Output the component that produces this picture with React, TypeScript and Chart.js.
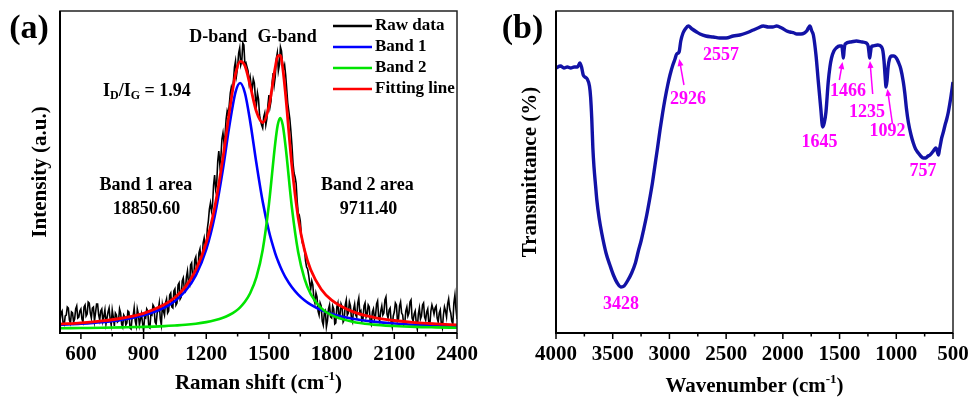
import React, { useEffect, useRef } from "react";
import { Chart, registerables } from "chart.js";

Chart.register(...registerables);

const FONT = "'Liberation Serif', 'Times New Roman', Times, serif";

// ---------------- Panel (a): Raman ----------------
const ramanShift = [
  500, 505, 510, 515, 520, 525, 530, 535, 540, 545, 550, 555, 560, 565, 570, 575, 580, 585, 590, 595,
  600, 605, 610, 615, 620, 625, 630, 635, 640, 645, 650, 655, 660, 665, 670, 675, 680, 685, 690, 695,
  700, 705, 710, 715, 720, 725, 730, 735, 740, 745, 750, 755, 760, 765, 770, 775, 780, 785, 790, 795,
  800, 805, 810, 815, 820, 825, 830, 835, 840, 845, 850, 855, 860, 865, 870, 875, 880, 885, 890, 895,
  900, 905, 910, 915, 920, 925, 930, 935, 940, 945, 950, 955, 960, 965, 970, 975, 980, 985, 990, 995,
  1000, 1005, 1010, 1015, 1020, 1025, 1030, 1035, 1040, 1045, 1050, 1055, 1060, 1065, 1070, 1075, 1080, 1085, 1090, 1095,
  1100, 1105, 1110, 1115, 1120, 1125, 1130, 1135, 1140, 1145, 1150, 1155, 1160, 1165, 1170, 1175, 1180, 1185, 1190, 1195,
  1200, 1205, 1210, 1215, 1220, 1225, 1230, 1235, 1240, 1245, 1250, 1255, 1260, 1265, 1270, 1275, 1280, 1285, 1290, 1295,
  1300, 1305, 1310, 1315, 1320, 1325, 1330, 1335, 1340, 1345, 1350, 1355, 1360, 1365, 1370, 1375, 1380, 1385, 1390, 1395,
  1400, 1405, 1410, 1415, 1420, 1425, 1430, 1435, 1440, 1445, 1450, 1455, 1460, 1465, 1470, 1475, 1480, 1485, 1490, 1495,
  1500, 1505, 1510, 1515, 1520, 1525, 1530, 1535, 1540, 1545, 1550, 1555, 1560, 1565, 1570, 1575, 1580, 1585, 1590, 1595,
  1600, 1605, 1610, 1615, 1620, 1625, 1630, 1635, 1640, 1645, 1650, 1655, 1660, 1665, 1670, 1675, 1680, 1685, 1690, 1695,
  1700, 1705, 1710, 1715, 1720, 1725, 1730, 1735, 1740, 1745, 1750, 1755, 1760, 1765, 1770, 1775, 1780, 1785, 1790, 1795,
  1800, 1805, 1810, 1815, 1820, 1825, 1830, 1835, 1840, 1845, 1850, 1855, 1860, 1865, 1870, 1875, 1880, 1885, 1890, 1895,
  1900, 1905, 1910, 1915, 1920, 1925, 1930, 1935, 1940, 1945, 1950, 1955, 1960, 1965, 1970, 1975, 1980, 1985, 1990, 1995,
  2000, 2005, 2010, 2015, 2020, 2025, 2030, 2035, 2040, 2045, 2050, 2055, 2060, 2065, 2070, 2075, 2080, 2085, 2090, 2095,
  2100, 2105, 2110, 2115, 2120, 2125, 2130, 2135, 2140, 2145, 2150, 2155, 2160, 2165, 2170, 2175, 2180, 2185, 2190, 2195,
  2200, 2205, 2210, 2215, 2220, 2225, 2230, 2235, 2240, 2245, 2250, 2255, 2260, 2265, 2270, 2275, 2280, 2285, 2290, 2295,
  2300, 2305, 2310, 2315, 2320, 2325, 2330, 2335, 2340, 2345, 2350, 2355, 2360, 2365, 2370, 2375, 2380, 2385, 2390, 2395,
  2400,
];

const rawData = [
  12, 20, 22, 9, 8, 17, 18, 26, 25, 13, 10, 21, 20, 11, 14, 24, 27, 15, 16, 22,
  24, 14, 11, 26, 28, 17, 19, 31, 30, 20, 15, 25, 26, 12, 20, 29, 29, 18, 13, 22,
  24, 12, 17, 23, 9, 15, 21, 25, 14, 8, 23, 16, 7, 20, 18, 11, 12, 24, 20, 9,
  6, 18, 16, 8, 10, 22, 21, 5, 4, 15, 17, 25, 12, 7, 24, 19, 8, 14, 19, 10,
  2, 16, 15, 24, 22, 6, 5, 19, 18, 28, 26, 11, 9, 20, 23, 30, 14, 8, 28, 22,
  18, 30, 34, 20, 22, 38, 40, 26, 25, 42, 44, 28, 30, 48, 50, 34, 36, 52, 55, 44,
  42, 56, 62, 50, 48, 68, 70, 54, 55, 73, 76, 60, 62, 80, 84, 70, 72, 90, 95, 86,
  88, 104, 112, 124, 130, 122, 128, 148, 158, 144, 150, 172, 182, 168, 176, 194, 200, 190, 198, 214,
  222, 218, 228, 240, 246, 242, 252, 266, 272, 258, 266, 280, 285, 268, 272, 290, 288, 268, 270, 266,
  262, 250, 256, 248, 244, 254, 250, 236, 228, 240, 234, 218, 212, 208, 205, 216, 220, 208, 214, 228,
  238, 226, 232, 250, 260, 248, 256, 274, 280, 262, 268, 286, 282, 270, 264, 268, 258, 244, 230, 222,
  214, 202, 188, 170, 160, 156, 150, 132, 120, 118, 112, 98, 90, 88, 84, 72, 66, 64, 58, 50,
  44, 52, 48, 34, 30, 40, 36, 22, 18, 30, 27, 12, 8, 20, 22, 6, 12, 24, 28, 16,
  15, 27, 24, 9, 10, 26, 30, 16, 18, 29, 26, 11, 13, 28, 33, 18, 20, 31, 27, 14,
  11, 24, 29, 18, 16, 30, 35, 20, 22, 12, 14, 27, 30, 16, 19, 28, 26, 10, 8, 21,
  24, 14, 17, 29, 32, 16, 12, 22, 27, 18, 20, 33, 36, 19, 15, 23, 25, 11, 6, 17,
  21, 30, 28, 12, 14, 27, 31, 20, 18, 8, 9, 22, 26, 17, 20, 31, 33, 15, 12, 19,
  22, 10, 4, 19, 25, 14, 17, 28, 30, 16, 13, 21, 24, 10, 8, 22, 28, 24, 19, 25,
  27, 15, 11, 20, 23, 9, 5, 18, 26, 22, 16, 29, 34, 24, 20, 12, 9, 30, 38, 24,
  14,
];

const fitShift = [
  500, 600, 700, 800, 900, 1000, 1050, 1100, 1150, 1200,
  1240, 1280, 1310, 1340, 1362, 1385, 1410, 1440, 1470, 1500,
  1530, 1542, 1554, 1566, 1580, 1610, 1640, 1670, 1700, 1750,
  1800, 1900, 2000, 2100, 2200, 2300, 2400,
];

const band1 = [
  8.1, 9.2, 10.8, 13.4, 17.7, 25.5, 32.1, 42.0, 57.7, 83.6,
  116.5, 164.2, 206.4, 240.9, 250.0, 240.0, 211.8, 169.7, 131.5, 101.7,
  79.7, 72.7, 66.5, 61.0, 55.4, 45.7, 38.4, 32.7, 28.3, 22.9,
  19.1, 14.2, 11.4, 9.5, 8.3, 7.5, 6.8,
];

const band2 = [
  4.8, 5.0, 5.2, 5.6, 6.1, 6.9, 7.5, 8.2, 9.3, 10.9,
  12.7, 15.2, 18.0, 21.8, 25.7, 31.2, 39.7, 55.8, 83.0, 128.9,
  189.7, 208.0, 215.0, 208.0, 185.9, 125.1, 80.7, 54.4, 38.9, 24.9,
  17.8, 11.2, 8.4, 7.0, 6.1, 5.6, 5.2,
];

const fittingLine = [
  8.9, 10.2, 12.1, 15.0, 19.7, 28.4, 35.5, 46.2, 63.0, 90.5,
  125.2, 175.4, 220.4, 258.7, 271.7, 267.2, 247.5, 221.5, 210.5, 226.6,
  265.4, 276.7, 277.5, 265.0, 237.3, 166.8, 115.1, 83.1, 63.2, 43.8,
  32.9, 21.4, 15.7, 12.5, 10.4, 9.1, 8.1,
];

const ramanMajorTicks = [600, 900, 1200, 1500, 1800, 2100, 2400];
const ramanMinorTicks = [750, 1050, 1350, 1650, 1950, 2250];
const ramanLegend = ["Raw data", "Band 1", "Band 2", "Fitting line"];

// ---------------- Panel (b): FTIR ----------------
const wavenumber = [
  4000, 3960, 3930, 3900, 3870, 3840, 3810, 3790, 3775, 3760,
  3745, 3725, 3705, 3695, 3685, 3675, 3665, 3650, 3640, 3620,
  3597, 3559, 3525, 3494, 3460, 3428, 3400, 3370, 3333, 3300,
  3274, 3250, 3230, 3200, 3171, 3150, 3127, 3105, 3083, 3060,
  3039, 3015, 2995, 2970, 2951, 2936, 2915, 2900, 2880, 2860,
  2834, 2800, 2760, 2730, 2680, 2613, 2557, 2500, 2437, 2380,
  2349, 2300, 2261, 2220, 2172, 2128, 2090, 2054, 2010, 1966,
  1937, 1900, 1878, 1840, 1810, 1790, 1775, 1762, 1745, 1731,
  1708, 1687, 1666, 1649, 1635, 1620, 1600, 1585, 1571, 1550,
  1530, 1500, 1480, 1472, 1466, 1460, 1450, 1400, 1352, 1300,
  1264, 1248, 1240, 1235, 1228, 1220, 1206, 1162, 1130, 1118,
  1108, 1098, 1090, 1082, 1072, 1060, 1040, 1020, 1000, 982,
  960, 938, 925, 910, 894, 870, 850, 830, 806, 785,
  762, 740, 720, 703, 680, 660, 650, 642, 635, 628,
  620, 610, 600, 585, 570, 555, 541, 520, 500,
];

const transmittance = [
  265, 267, 265, 266, 265, 266, 266, 270, 266, 258,
  256, 254, 247, 236, 215, 185, 166, 146, 133, 115,
  100, 80, 68, 58, 50, 46, 47, 52, 60, 70,
  82, 92, 102, 118, 136, 150, 168, 185, 203, 220,
  234, 248, 258, 268, 274, 279, 281, 292, 300, 304,
  307, 304, 301, 299, 297, 296, 295, 295, 297, 298,
  299, 301, 303, 305, 307, 306, 306, 307, 305, 302,
  301, 300, 299, 299, 300, 302, 305, 307, 302, 298,
  278, 251, 225, 206, 210, 221, 251, 266, 275, 282,
  285, 287, 287, 280, 275, 283, 289, 291, 292, 291,
  290, 287, 280, 275, 280, 286, 287, 288, 286, 282,
  272, 256, 246, 252, 266, 274, 277, 277, 275, 271,
  264, 251, 240, 224, 211, 198, 190, 184, 180, 177,
  175, 175, 177, 178, 181, 184, 185, 183, 180, 178,
  183, 189, 195, 201, 208, 214, 221, 235, 251,
];

const ftirMajorTicks = [4000, 3500, 3000, 2500, 2000, 1500, 1000, 500];
const ftirMinorTicks = [3750, 3250, 2750, 2250, 1750, 1250, 750];
const ftirPeakLabels = ["3428", "2926", "2557", "1645", "1466", "1235", "1092", "757"];

// ---------------- helpers ----------------
type Part = { t: string; size: number; dy?: number };

function drawRich(
  ctx: CanvasRenderingContext2D,
  parts: Part[],
  cx: number,
  cy: number,
  color: string,
  align: "center" | "left" = "center"
) {
  ctx.save();
  ctx.fillStyle = color;
  ctx.textBaseline = "middle";
  ctx.textAlign = "left";
  const widths = parts.map((p) => {
    ctx.font = `bold ${p.size}px ${FONT}`;
    return ctx.measureText(p.t).width;
  });
  const total = widths.reduce((a, b) => a + b, 0);
  let x = align === "center" ? cx - total / 2 : cx;
  parts.forEach((p, i) => {
    ctx.font = `bold ${p.size}px ${FONT}`;
    ctx.fillText(p.t, x, cy + (p.dy || 0));
    x += widths[i];
  });
  ctx.restore();
}

function drawRotated(ctx: CanvasRenderingContext2D, parts: Part[], cx: number, cy: number) {
  ctx.save();
  ctx.translate(cx, cy);
  ctx.rotate(-Math.PI / 2);
  drawRich(ctx, parts, 0, 0, "#000");
  ctx.restore();
}

function drawFrameAndTicks(chart: any, major: number[], minor: number[]) {
  const { ctx, chartArea: ca } = chart;
  const xs = chart.scales.x;
  ctx.save();
  ctx.strokeStyle = "#222";
  ctx.lineWidth = 1.5;
  ctx.strokeRect(ca.left, ca.top, ca.right - ca.left, ca.bottom - ca.top);
  ctx.strokeStyle = "#000";
  ctx.lineWidth = 2;
  ctx.beginPath();
  ctx.moveTo(ca.left, ca.top);
  ctx.lineTo(ca.left, ca.bottom);
  ctx.lineTo(ca.right, ca.bottom);
  ctx.stroke();
  ctx.lineWidth = 1.5;
  ctx.beginPath();
  major.forEach((v) => {
    const x = xs.getPixelForValue(v);
    ctx.moveTo(x, ca.bottom);
    ctx.lineTo(x, ca.bottom + 6);
  });
  minor.forEach((v) => {
    const x = xs.getPixelForValue(v);
    ctx.moveTo(x, ca.bottom);
    ctx.lineTo(x, ca.bottom + 3.5);
  });
  ctx.stroke();
  ctx.restore();
}

function drawArrow(ctx: CanvasRenderingContext2D, x1: number, y1: number, x2: number, y2: number, color: string) {
  const ang = Math.atan2(y2 - y1, x2 - x1);
  const len = 7;
  const hw = 3;
  ctx.save();
  ctx.strokeStyle = color;
  ctx.fillStyle = color;
  ctx.lineWidth = 1.5;
  ctx.beginPath();
  ctx.moveTo(x1, y1);
  ctx.lineTo(x2 - Math.cos(ang) * len * 0.8, y2 - Math.sin(ang) * len * 0.8);
  ctx.stroke();
  ctx.beginPath();
  ctx.moveTo(x2, y2);
  ctx.lineTo(x2 - Math.cos(ang) * len + Math.sin(ang) * hw, y2 - Math.sin(ang) * len - Math.cos(ang) * hw);
  ctx.lineTo(x2 - Math.cos(ang) * len - Math.sin(ang) * hw, y2 - Math.sin(ang) * len + Math.cos(ang) * hw);
  ctx.closePath();
  ctx.fill();
  ctx.restore();
}

const panelAPlugin = {
  id: "panelA",
  afterDraw(chart: any) {
    const { ctx, chartArea: ca } = chart;
    const xs = chart.scales.x;
    const ys = chart.scales.y;
    drawFrameAndTicks(chart, ramanMajorTicks, ramanMinorTicks);

    // legend
    chart.data.datasets.forEach((ds: any, i: number) => {
      const y = ca.top + 15 + i * 21;
      ctx.save();
      ctx.strokeStyle = ds.borderColor;
      ctx.lineWidth = 2.5;
      ctx.beginPath();
      ctx.moveTo(ca.right - 124, y);
      ctx.lineTo(ca.right - 85, y);
      ctx.stroke();
      ctx.restore();
      drawRich(ctx, [{ t: ds.label, size: 17 }], ca.right - 82, y, "#000", "left");
    });

    const P = (v: number, I: number) => [xs.getPixelForValue(v), ys.getPixelForValue(I)];
    const notes: [Part[], number, number][] = [
      [[{ t: "D-band", size: 18 }], 1257, 295.5],
      [[{ t: "G-band", size: 18 }], 1587, 295.5],
      [
        [
          { t: "I", size: 18 },
          { t: "D", size: 12, dy: 5 },
          { t: "/I", size: 18 },
          { t: "G", size: 12, dy: 5 },
          { t: " = 1.94", size: 18 },
        ],
        916,
        242,
      ],
      [[{ t: "Band 1 area", size: 18 }], 911, 148],
      [[{ t: "18850.60", size: 18 }], 914, 124],
      [[{ t: "Band 2 area", size: 18 }], 1971, 148],
      [[{ t: "9711.40", size: 18 }], 1976, 124],
    ];
    notes.forEach(([parts, v, I]) => {
      const [x, y] = P(v, I);
      drawRich(ctx, parts, x, y, "#000");
    });

    drawRich(
      ctx,
      [
        { t: "Raman shift (cm", size: 21 },
        { t: "-1", size: 13, dy: -7 },
        { t: ")", size: 21 },
      ],
      (ca.left + ca.right) / 2,
      384,
      "#000"
    );
    drawRotated(ctx, [{ t: "Intensity (a.u.)", size: 21 }], 41, (ca.top + ca.bottom) / 2);
    drawRich(ctx, [{ t: "(a)", size: 34 }], 29, 29, "#000");
  },
};

const panelBPlugin = {
  id: "panelB",
  afterDraw(chart: any) {
    const { ctx, chartArea: ca } = chart;
    const xs = chart.scales.x;
    const ys = chart.scales.y;
    drawFrameAndTicks(chart, ftirMajorTicks, ftirMinorTicks);
    const MAG = "#ff00ff";
    const P = (v: number, T: number) => [xs.getPixelForValue(v), ys.getPixelForValue(T)];
    const labelPos: [number, number][] = [
      [3427, 29],
      [2836, 234],
      [2545, 278],
      [1677, 191],
      [1426, 242],
      [1258, 221],
      [1077, 202],
      [764, 162],
    ];
    ftirPeakLabels.forEach((t, i) => {
      const [x, y] = P(labelPos[i][0], labelPos[i][1]);
      drawRich(ctx, [{ t, size: 18 }], x, y, MAG);
    });
    const arrows: [number, number, number, number][] = [
      [2872, 248, 2913, 274],
      [1502, 253, 1474, 271],
      [1208, 239, 1232, 272],
      [1035, 210, 1078, 244],
    ];
    arrows.forEach(([v1, t1, v2, t2]) => {
      const [x1, y1] = P(v1, t1);
      const [x2, y2] = P(v2, t2);
      drawArrow(ctx, x1, y1, x2, y2, MAG);
    });
    drawRich(
      ctx,
      [
        { t: "Wavenumber (cm", size: 21 },
        { t: "-1", size: 13, dy: -7 },
        { t: ")", size: 21 },
      ],
      (ca.left + ca.right) / 2,
      387,
      "#000"
    );
    drawRotated(ctx, [{ t: "Transmittance (%)", size: 21 }], 51, (ca.top + ca.bottom) / 2);
    drawRich(ctx, [{ t: "(b)", size: 34 }], 42.5, 29, "#000");
  },
};

function xAxis(min: number, max: number, ticks: number[], reverse: boolean) {
  return {
    type: "linear" as const,
    min,
    max,
    reverse,
    afterBuildTicks: (s: any) => {
      s.ticks = ticks.map((v) => ({ value: v }));
    },
    afterFit: (s: any) => {
      s.height = 65;
      s.paddingLeft = 0;
      s.paddingRight = 0;
    },
    grid: { display: false, drawTicks: false },
    border: { display: false },
    ticks: {
      color: "#000",
      padding: 9,
      maxRotation: 0,
      autoSkip: false,
      font: { family: FONT, size: 21, weight: "bold" as const },
      callback: (v: any) => String(v),
    },
  };
}

function yAxis(width: number) {
  return {
    type: "linear" as const,
    min: 0,
    max: 322,
    afterFit: (s: any) => {
      s.width = width;
      s.paddingTop = 0;
      s.paddingBottom = 0;
    },
    grid: { display: false, drawTicks: false },
    border: { display: false },
    ticks: { display: false },
  };
}

export default function App() {
  const refA = useRef<HTMLCanvasElement>(null);
  const refB = useRef<HTMLCanvasElement>(null);

  useEffect(() => {
    const rawPts = ramanShift.map((x, i) => ({ x, y: rawData[i] }));
    const fitPts = (arr: number[]) => fitShift.map((x, i) => ({ x, y: arr[i] }));

    const chartA = new Chart(refA.current!, {
      type: "line",
      data: {
        datasets: [
          {
            label: ramanLegend[0],
            data: rawPts,
            borderColor: "#000000",
            borderWidth: 1.6,
            pointRadius: 0,
            tension: 0,
            order: 4,
          },
          {
            label: ramanLegend[1],
            data: fitPts(band1),
            borderColor: "#0000ff",
            borderWidth: 2.6,
            pointRadius: 0,
            cubicInterpolationMode: "monotone",
            order: 3,
          },
          {
            label: ramanLegend[2],
            data: fitPts(band2),
            borderColor: "#00e400",
            borderWidth: 2.6,
            pointRadius: 0,
            cubicInterpolationMode: "monotone",
            order: 2,
          },
          {
            label: ramanLegend[3],
            data: fitPts(fittingLine),
            borderColor: "#ff0000",
            borderWidth: 2.8,
            pointRadius: 0,
            cubicInterpolationMode: "monotone",
            order: 1,
          },
        ],
      },
      options: {
        responsive: false,
        animation: false,
        events: [],
        layout: { padding: { left: 0, right: 23, top: 11, bottom: 0 } },
        plugins: { legend: { display: false }, tooltip: { enabled: false } },
        scales: {
          x: xAxis(500, 2400, ramanMajorTicks, false),
          y: yAxis(60),
        },
      } as any,
      plugins: [panelAPlugin],
    });

    const chartB = new Chart(refB.current!, {
      type: "line",
      data: {
        datasets: [
          {
            label: "FTIR",
            data: wavenumber.map((x, i) => ({ x, y: transmittance[i] })),
            borderColor: "#1212a6",
            borderWidth: 3.4,
            pointRadius: 0,
            cubicInterpolationMode: "monotone",
          },
        ],
      },
      options: {
        responsive: false,
        animation: false,
        events: [],
        layout: { padding: { left: 0, right: 16, top: 11, bottom: 0 } },
        plugins: { legend: { display: false }, tooltip: { enabled: false } },
        scales: {
          x: xAxis(500, 4000, ftirMajorTicks, true),
          y: yAxis(76),
        },
      } as any,
      plugins: [panelBPlugin],
    });

    return () => {
      chartA.destroy();
      chartB.destroy();
    };
  }, []);

  return (
    <div style={{ position: "absolute", left: 0, top: 0, width: 969, height: 398, background: "#fff" }}>
      <canvas
        ref={refA}
        width={480}
        height={398}
        style={{ position: "absolute", left: 0, top: 0, width: 480, height: 398 }}
      />
      <canvas
        ref={refB}
        width={489}
        height={398}
        style={{ position: "absolute", left: 480, top: 0, width: 489, height: 398 }}
      />
    </div>
  );
}
